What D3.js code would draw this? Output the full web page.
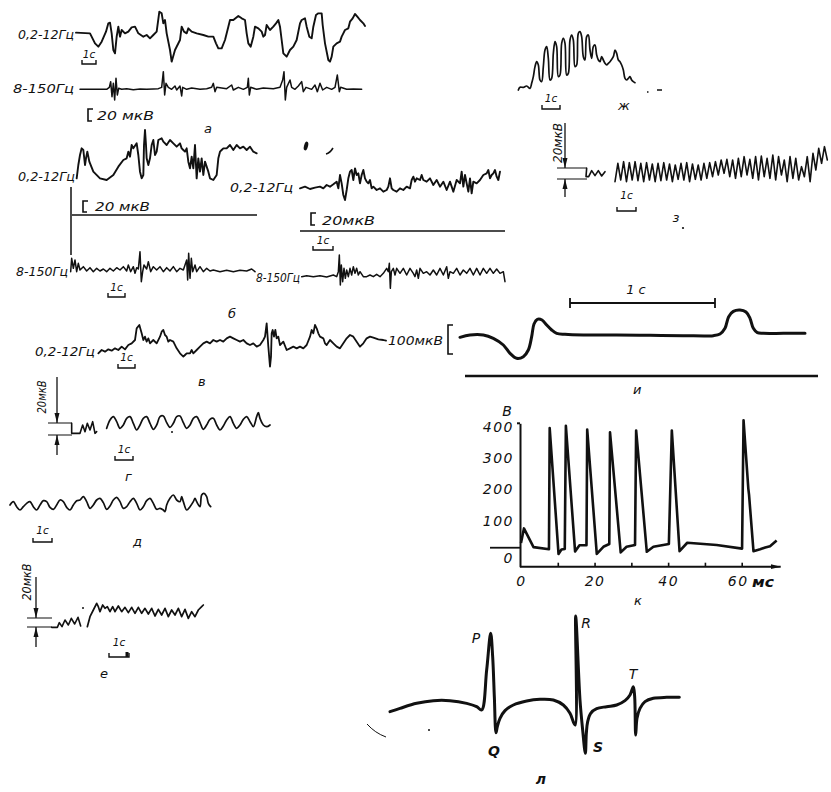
<!DOCTYPE html>
<html><head><meta charset="utf-8"><title>EEG figure</title>
<script src="https://cdn.jsdelivr.net/npm/d3@7/dist/d3.min.js"></script>
<style>
html,body{margin:0;padding:0;background:#fff;}
svg{display:block;background:#fff;}
text{font-family:"DejaVu Sans","Liberation Sans",sans-serif;font-style:italic;fill:#111;}
</style></head><body>
<svg id="fig" width="831" height="792"></svg>
<script>
const aLow = [[228,98],[270,100],[285,130],[295,140],[305,125],[318,95],[325,70],[330,68],[335,100],[340,150],[345,160],[350,110],[355,80],[360,110],[365,90],[375,100],[385,95],[395,82],[405,80],[415,100],[430,110],[440,105],[450,115],[460,105],[470,95],[478,35],[485,40],[490,70],[495,60],[500,100],[510,150],[515,185],[525,150],[540,120],[545,80],[552,95],[560,100],[565,85],[575,95],[590,100],[610,105],[625,110],[640,110],[648,130],[655,145],[665,145],[675,120],[685,80],[690,60],[700,60],[715,48],[725,55],[735,60],[740,100],[745,130],[752,140],[760,110],[765,80],[775,85],[785,95],[790,110],[795,105],[800,75],[810,90],[820,80],[828,70],[835,60],[840,80],[845,120],[850,160],[860,170],[870,150],[880,140],[890,120],[900,70],[905,60],[915,55],[920,80],[928,110],[935,115],[940,80],[948,45],[955,40],[965,40],[968,75],[975,130],[985,180],[990,185],[995,170],[1000,140],[1010,130],[1020,125],[1025,110],[1030,100],[1035,90],[1045,85],[1050,65],[1058,55],[1065,42],[1072,50],[1080,60],[1090,70],[1095,78]];
const aHigh = [[240,268],[320,268],[328,262],[332,245],[336,290],[340,250],[344,300],[348,235],[352,285],[356,265],[365,268],[380,266],[400,269],[420,267],[440,268],[460,267],[475,266],[485,262],[490,215],[494,285],[498,250],[505,262],[515,268],[525,258],[530,270],[540,258],[545,288],[548,262],[560,268],[575,264],[600,268],[620,266],[635,262],[640,250],[645,275],[650,262],[665,264],[680,266],[695,255],[700,270],[715,262],[730,268],[742,262],[745,235],[748,285],[752,262],[770,268],[790,264],[820,266],[840,262],[848,240],[852,215],[856,300],[860,262],[870,240],[875,262],[885,268],[895,258],[905,245],[910,275],[918,262],[935,268],[945,255],[952,275],[960,250],[968,270],[980,262],[995,268],[1005,262],[1012,225],[1018,275],[1022,262],[1040,268],[1060,267],[1085,268]];
const bLowLeft = [[230,160],[235,120],[240,90],[245,70],[250,75],[255,120],[258,100],[262,80],[268,110],[280,140],[300,160],[320,165],[340,150],[355,125],[370,105],[380,100],[385,80],[390,95],[395,60],[400,70],[410,55],[415,90],[420,140],[425,160],[430,150],[432,60],[435,15],[438,60],[440,100],[445,120],[450,100],[455,60],[460,45],[465,90],[470,80],[475,45],[485,40],[490,50],[500,60],[510,45],[520,55],[530,65],[540,55],[545,70],[550,75],[555,80],[560,70],[565,110],[570,130],[575,95],[580,130],[585,60],[590,160],[595,100],[600,140],[605,100],[610,150],[615,110],[625,140],[630,160],[640,165],[650,150],[655,100],[660,80],[665,75],[670,70],[680,70],[690,60],[700,75],[710,60],[720,70],[730,65],[740,75],[750,65],[760,80],[770,85]];
const bHighLeft = [[212,440],[215,400],[220,430],[225,405],[230,440],[235,415],[240,435],[250,425],[260,438],[270,428],[280,440],[290,430],[300,438],[310,432],[320,440],[330,430],[340,438],[350,428],[360,435],[370,425],[380,438],[385,420],[392,440],[400,425],[405,445],[410,428],[415,432],[420,380],[424,470],[428,440],[432,420],[440,432],[445,410],[452,440],[460,425],[470,435],[480,425],[490,440],[500,428],[510,438],[520,425],[530,440],[540,430],[550,435],[555,420],[560,405],[563,465],[566,385],[570,460],[574,400],[578,440],[585,420],[590,440],[600,425],[610,440],[620,430],[630,438],[640,435],[660,440],[680,436],[700,440],[720,436],[740,438],[755,432],[765,440]];
const bLowRight = [[240,190],[255,185],[270,192],[285,188],[300,185],[310,190],[320,180],[330,185],[340,178],[350,170],[355,190],[360,150],[365,175],[370,210],[375,225],[380,195],[385,160],[390,140],[395,135],[400,165],[405,130],[410,150],[415,145],[420,175],[425,150],[430,135],[435,160],[440,170],[445,175],[450,165],[455,190],[460,185],[470,195],[480,190],[490,200],[500,195],[505,185],[510,160],[515,190],[520,195],[530,200],[540,190],[550,195],[560,185],[570,190],[575,165],[580,155],[585,170],[590,160],[600,165],[605,150],[610,165],[620,170],[630,160],[640,180],[650,165],[660,185],[670,170],[680,195],[690,170],[700,200],[710,165],[720,175],[725,140],[730,185],[735,150],[745,200],[750,160],[755,205],[760,170],[770,175],[780,165],[790,150],[800,145],[805,135],[810,160],[815,150],[820,145],[825,135],[830,155],[835,165],[840,140]];
const bHighRight = [[245,455],[260,452],[280,455],[300,452],[320,456],[340,450],[350,455],[355,440],[358,390],[361,480],[364,420],[368,470],[372,430],[376,460],[380,435],[385,455],[390,430],[395,450],[400,425],[405,445],[410,430],[415,450],[420,440],[430,455],[440,455],[450,450],[460,455],[470,448],[480,455],[490,445],[500,430],[505,440],[508,415],[511,490],[514,440],[520,430],[525,450],[530,430],[540,445],[550,430],[560,450],[570,430],[580,445],[585,455],[590,435],[595,460],[600,430],[610,445],[620,440],[630,450],[640,435],[650,450],[660,430],[670,450],[680,425],[685,460],[690,440],[700,445],[710,430],[720,450],[730,435],[740,445],[750,430],[760,450],[770,430],[780,450],[790,430],[800,445],[810,430],[820,445],[830,432],[840,445],[850,440],[855,470]];
const cLow = [[295,160],[305,150],[315,155],[325,148],[335,152],[345,145],[355,150],[365,140],[375,148],[385,135],[395,130],[405,120],[410,85],[418,75],[425,100],[430,120],[435,110],[440,125],[445,115],[450,130],[460,120],[470,130],[480,110],[485,95],[490,90],[495,105],[500,110],[505,125],[510,120],[520,125],[530,145],[540,160],[550,170],[555,165],[560,160],[570,160],[575,150],[580,160],[590,150],[600,140],[610,130],[620,125],[630,130],[640,120],[650,125],[660,120],[670,125],[680,115],[690,110],[700,115],[710,120],[720,125],[730,120],[740,130],[750,135],[760,130],[770,140],[780,135],[790,120],[795,110],[800,70],[805,140],[810,200],[813,170],[815,100],[818,90],[822,110],[826,90],[830,115],[835,110],[840,135],[845,130],[850,125],[860,150],[870,145],[880,140],[890,145],[900,140],[910,145],[920,135],[930,110],[935,90],[940,100],[945,75],[950,85],[955,100],[960,110],[970,115],[975,130],[980,135],[990,120],[1000,130],[1010,140],[1020,145],[1030,130],[1040,115],[1050,105],[1060,110],[1070,125],[1080,140],[1090,130],[1100,115],[1110,110],[1120,113],[1135,118],[1150,120],[1158,122]];
const gCal = [[215,160],[215,190],[240,190],[248,165],[255,185],[262,160],[270,180],[278,155],[285,190],[290,185]];
const gWave = [[320,175],[330,150],[340,140],[350,155],[360,175],[370,165],[380,145],[390,140],[400,160],[410,180],[420,165],[430,145],[440,140],[450,160],[460,178],[470,165],[480,140],[490,138],[500,158],[510,172],[520,160],[530,140],[540,138],[550,158],[560,175],[570,165],[580,145],[590,140],[600,158],[610,178],[620,165],[630,148],[640,145],[650,165],[660,180],[670,168],[680,150],[690,140],[700,160],[710,175],[720,165],[730,148],[740,140],[750,155],[760,170],[770,140],[775,128],[780,145],[790,165],[800,170],[810,165]];
const dWave = [[30,405],[40,395],[50,410],[60,420],[70,410],[80,400],[90,395],[100,410],[110,420],[120,405],[130,392],[140,395],[150,412],[160,418],[170,405],[180,390],[190,395],[200,412],[210,420],[220,405],[230,392],[240,390],[250,380],[260,395],[270,415],[280,405],[290,390],[300,385],[310,398],[320,418],[330,408],[340,390],[350,382],[360,395],[370,415],[380,410],[390,395],[400,385],[410,400],[420,420],[430,410],[440,392],[450,385],[460,400],[470,418],[480,415],[490,420],[495,425],[500,405],[510,385],[520,375],[530,390],[540,395],[545,380],[550,395],[560,420],[570,410],[580,395],[585,385],[590,395],[600,410],[605,375],[612,370],[620,380],[625,400],[632,410]];
const eCal = [[155,772],[172,772],[178,758],[186,770],[195,750],[205,765],[214,745],[224,762],[234,742],[242,768]];
const eWave = [[262,770],[270,740],[280,720],[290,700],[295,710],[300,725],[308,705],[315,715],[322,710],[330,725],[338,710],[345,725],[355,708],[365,725],[375,712],[385,728],[395,712],[405,730],[415,712],[425,730],[435,715],[445,732],[455,715],[465,738],[475,718],[485,735],[495,715],[505,740],[515,720],[525,735],[535,715],[545,740],[555,718],[565,745],[575,725],[585,740],[595,720],[605,710],[610,705]];
const zhWave = [[55,270],[60,262],[70,262],[80,258],[90,265],[95,250],[100,230],[105,200],[110,185],[115,195],[120,240],[125,245],[130,200],[135,150],[140,140],[145,175],[150,240],[155,235],[160,160],[165,125],[170,140],[175,230],[180,225],[185,130],[190,115],[195,130],[200,225],[205,220],[210,120],[215,105],[220,120],[225,200],[230,195],[235,100],[240,95],[245,110],[250,170],[255,180],[260,110],[265,105],[270,150],[275,175],[280,140],[285,135],[290,165],[295,180],[300,185],[305,170],[310,180],[315,190],[320,195],[325,190],[330,185],[340,170],[345,150],[350,160],[355,180],[360,185],[365,195],[370,210],[375,235],[380,240],[385,235],[390,230],[395,240],[400,245],[405,248]];
const zCal = [[260,505],[258,530],[266,530],[275,512],[285,527],[295,512],[305,528],[315,515]];
const zWave = [545,490,540,485,545,488,540,485,542,490,545,488,540,492,545,490,542,488,540,492,545,495,538,490,540,488,545,492,538,495,540,490,535,488,530,485,525,480,520,478,530,480,535,475,530,470,525,478,535,470,540,468,530,475,535,465,540,470,525,480,545,470,535,475,540,500,530,470,545,460,510,445,490,440,480];
const iTrace = [[30,172],[60,165],[100,165],[130,175],[160,195],[180,220],[200,235],[220,230],[235,210],[245,170],[252,132],[262,118],[276,120],[290,135],[305,150],[320,160],[345,163],[400,165],[500,165],[600,166],[700,167],[790,167],[810,162],[825,145],[836,110],[850,94],[870,90],[888,96],[900,115],[910,145],[922,158],[940,160],[1000,160],[1065,160]];
const lTrace = [[270,365],[300,355],[350,340],[400,332],[450,332],[500,340],[530,350],[545,360],[560,240],[572,130],[578,200],[583,320],[588,428],[592,410],[600,385],[615,362],[640,345],[680,333],[720,328],[760,330],[790,345],[810,370],[822,400],[826,405],[827,78],[840,330],[848,420],[856,490],[859,430],[863,395],[872,370],[890,356],[920,350],[950,345],[975,332],[990,315],[1000,290],[1004,320],[1007,435],[1011,385],[1020,355],[1035,335],[1060,325],[1100,322],[1138,322]];

// panel к : time, ms  /  voltage, V
const kTime = [0,0.8,3.4,7.6,7.8,10.2,11.0,11.9,12.2,14.7,15.9,17.8,18.0,20.6,22.4,24.0,24.2,27.1,28.7,31.0,31.3,34.2,36.0,40.2,41.0,43.1,45.2,53.2,60.1,60.5,61.8,62.0,63.2,65.0,66.4,67.7,69.5];
const kVolt = [15,62,2,-5,385,-20,-6,-4,392,-12,8,8,380,-20,3,12,371,-15,3,9,377,-13,3,12,377,-11,16,9,-3,410,190,170,-11,-5,1,5,23];
const kVoltTicks = [0,100,200,300,400];
const kTimeLabels = [0,20,40,60];
const kTimeTicks = [10,20,30,40,50,60];

// ---------------- drawing ----------------
const svg = d3.select("#fig");
const ink = "#111";
const defs = svg.append("defs");
defs.append("marker").attr("id","arr").attr("markerUnits","userSpaceOnUse")
  .attr("markerWidth",10).attr("markerHeight",6).attr("refX",10).attr("refY",3).attr("orient","auto")
  .append("path").attr("d","M0,0.5L10,3L0,5.5Z").attr("fill",ink);

function region(ox, oy){
  return {x: d3.scaleLinear().domain([0,3]).range([ox, ox+1]),
          y: d3.scaleLinear().domain([0,3]).range([oy, oy+1])};
}
function trace(data, r, w, curve){
  svg.append("path").datum(data)
    .attr("d", d3.line().x(d=>r.x(d[0])).y(d=>r.y(d[1])).curve(curve||d3.curveLinear))
    .attr("fill","none").attr("stroke",ink).attr("stroke-width",w)
    .attr("stroke-linejoin","round").attr("stroke-linecap","round");
}
function path(d, w, extra){
  const p = svg.append("path").attr("d",d).attr("fill","none").attr("stroke",ink).attr("stroke-width",w||1.4);
  if(extra) extra(p);
  return p;
}
function label(x, y, s, size, len, anchor){
  const t = svg.append("text").attr("x",x).attr("y",y).attr("font-size",size).text(s);
  if(len) t.attr("textLength",len).attr("lengthAdjust","spacingAndGlyphs");
  if(anchor) t.attr("text-anchor",anchor);
  return t;
}
function rotLabel(x, y, s, size, len){
  svg.append("text").attr("transform",`translate(${x},${y}) rotate(-90)`).attr("text-anchor","middle")
    .attr("font-size",size).attr("textLength",len).attr("lengthAdjust","spacingAndGlyphs").text(s);
}
function secBar(x0, x1, y, ty){
  path(`M${x0},${y-4}V${y}H${x1}V${y-4}`, 1.4);
  label((x0+x1)/2, ty, "1с", 10.5, null, "middle");
}
function bracket(x, y0, y1){ path(`M${x+5},${y0}H${x}V${y1}H${x+4}`, 1.6); }
function calib(xv, yTop, yA, yB, yBot, xl, xr){
  path(`M${xv},${yTop}V${yA}`, 1.3, p=>p.attr("marker-end","url(#arr)"));
  path(`M${xv},${yBot}V${yB}`, 1.3, p=>p.attr("marker-end","url(#arr)"));
  path(`M${xl},${yA}H${xr}M${xl},${yB}H${xr}`, 1.2);
}
const smooth = d3.curveCatmullRom.alpha(0.5);

// ---- panel а ----
const rA = region(0,0);
label(18, 39, "0,2-12Гц", 12, 56);
trace(aLow, rA, 1.9);
secBar(82, 96, 64, 58);
label(13, 93, "8-150Гц", 12, 61);
trace(aHigh, rA, 1.5);
bracket(88, 109, 121);
label(97, 120, "20 мкВ", 12.5, 57);
label(204, 133, "а", 13);

// ---- panel б ----
const rB = region(0,125), rB2 = region(220,125);
label(18, 181, "0,2-12Гц", 12, 57);
trace(bLowLeft, rB, 1.9);
path("M71,187V255", 1.5);
path("M72,215H257", 1.5);
bracket(83, 201, 212);
label(95, 211, "20 мкВ", 12.5, 55);
label(16, 276, "8-150Гц", 12, 52);
trace(bHighLeft, rB, 1.5);
secBar(108, 125, 297, 291);
label(230, 192, "0,2-12Гц", 12, 63);
trace(bLowRight, rB2, 1.9);
bracket(311, 213, 225);
label(322, 225, "20мкВ", 12.5, 53);
path("M300,231H505", 1.5);
secBar(313, 333, 250, 244);
label(256, 282, "8-150Гц", 12, 44);
trace(bHighRight, rB2, 1.5);
label(228, 318, "б", 13);
svg.append("ellipse").attr("cx",306).attr("cy",146).attr("rx",2).attr("ry",4.5).attr("transform","rotate(15 306 146)").attr("fill",ink);
path("M326,154Q330,153 333,148", 1.6);

// ---- panel в ----
const rC = region(0,300);
label(35, 356, "0,2-12Гц", 12, 60);
trace(cLow, rC, 1.8);
secBar(118, 135, 368, 361);
label(198, 386, "в", 13);
label(388, 345, "100мкВ", 12.5, 55);
path("M453,325H448V354H453", 1.6);

// ---- panel г ----
const rG = region(0,370);
rotLabel(46, 397, "20мкВ", 12, 33);
calib(57, 377, 423, 435, 455, 48, 72);
trace(gCal, rG, 1.6);
trace(gWave, rG, 1.7, smooth);
secBar(115, 133, 460, 453);
label(125, 481, "г", 13);
svg.append("circle").attr("cx",172).attr("cy",432).attr("r",1).attr("fill",ink);

// ---- panel д ----
trace(dWave, rG, 1.7, smooth);
secBar(33, 52, 542, 534);
label(133, 546, "д", 13);

// ---- panel е ----
rotLabel(31, 582, "20мкВ", 12, 37);
calib(36, 577, 618, 627, 647, 27, 52);
trace(eCal, rG, 1.6);
trace(eWave, rG, 1.7);
svg.append("circle").attr("cx",83).attr("cy",608).attr("r",1).attr("fill",ink);
secBar(109, 129, 657, 646);
path("M127,652V657", 3);
label(104, 678, "е", 13, null, "middle");

// ---- panel ж ----
const rZ = region(500,0);
trace(zhWave, rZ, 1.7, smooth);
secBar(542, 560, 109, 102);
label(618, 110, "ж", 13);
path("M647,92h1.5M657,90h5", 1.4);

// ---- panel з ----
rotLabel(562, 143, "20мкВ", 12, 40);
calib(565, 123, 168, 179, 197, 557, 587);
trace(zCal, rZ, 1.6);
const zx = d3.scaleLinear().domain([0, zWave.length-1]).range([345, 982]);
trace(zWave.map((v,i)=>[zx(i), v]), rZ, 1.6);
secBar(617, 636, 211, 199);
label(676, 222, "з", 13, null, "middle");
svg.append("circle").attr("cx",683).attr("cy",228).attr("r",1.1).attr("fill",ink);

// ---- panel и ----
const rI = region(450,280);
path("M570,303H715M570,298V308M715,298V308", 1.8);
label(636, 294, "1 с", 13, null, "middle");
trace(iTrace, rI, 3, smooth);
path("M465,376H818", 2.6);
label(633, 394, "и", 13);

// ---- panel к ----
const kx = d3.scaleLinear().domain([0,60]).range([521, 741.7]);
const ky = d3.scaleLinear().domain([-61,400]).range([566.7, 423.3]);
const kStyle = g => g.selectAll("text").attr("font-size",14).attr("font-style","italic")
  .attr("font-family","DejaVu Sans, sans-serif").attr("fill",ink).attr("letter-spacing",1.5);
const gy = svg.append("g").attr("transform",`translate(${kx(0)-1},0)`)
  .call(d3.axisLeft(ky).tickValues(kVoltTicks).tickSize(0).tickSizeOuter(0).tickPadding(6).tickFormat(d3.format("d")));
gy.select(".domain").attr("stroke",ink).attr("stroke-width",2);
gy.call(kStyle);
gy.selectAll(".tick text").attr("y", d => d===0 ? 10 : 4);
path(`M${kx(0)-4},${ky(400)}H${kx(0)-1}`, 2);
path(`M490,${ky(0)}H${kx(0)-1}`, 1.8);
const gxT = svg.append("g").attr("transform",`translate(0,${ky(-61)})`)
  .call(d3.axisBottom(kx).tickValues(kTimeTicks).tickSizeInner(-4).tickSizeOuter(0).tickFormat(""));
gxT.select(".domain").remove();
gxT.selectAll("line").attr("stroke",ink).attr("stroke-width",1.6);
path(`M${kx(0)-1},${ky(-61)}H${kx(70.6)}`, 2, p=>p.attr("marker-end","url(#arr)"));
const gxL = svg.append("g").attr("transform",`translate(0,${ky(-61)})`)
  .call(d3.axisBottom(kx).tickValues(kTimeLabels).tickSize(0).tickPadding(9));
gxL.select(".domain").remove();
gxL.call(kStyle);
gxL.selectAll(".tick text").attr("x", d => d===60 ? -4 : 0);
label(763, 587, "мс", 14, 22, "middle").attr("font-weight","bold");
label(507, 416, "В", 14, null, "middle");
svg.append("path").datum(kTime.map((t,i)=>[t,kVolt[i]]))
  .attr("d", d3.line().x(d=>kx(d[0])).y(d=>ky(d[1])))
  .attr("fill","none").attr("stroke",ink).attr("stroke-width",2.6).attr("stroke-linejoin","round");
label(638, 605, "к", 13, null, "middle");

// ---- panel л ----
const rL = region(300,590);
trace(lTrace, rL, 3, smooth);
label(476, 643, "P", 14, null, "middle");
label(494, 756, "Q", 14, null, "middle").attr("font-weight","bold");
label(586, 628, "R", 14, null, "middle");
label(598, 752, "S", 14, null, "middle").attr("font-weight","bold");
label(633, 679, "T", 14, null, "middle");
label(541, 784, "л", 14, null, "middle").attr("font-weight","bold");
path("M367,724Q375,733 386,737", 1);
svg.append("circle").attr("cx",429).attr("cy",730).attr("r",1).attr("fill",ink);
</script></body></html>
